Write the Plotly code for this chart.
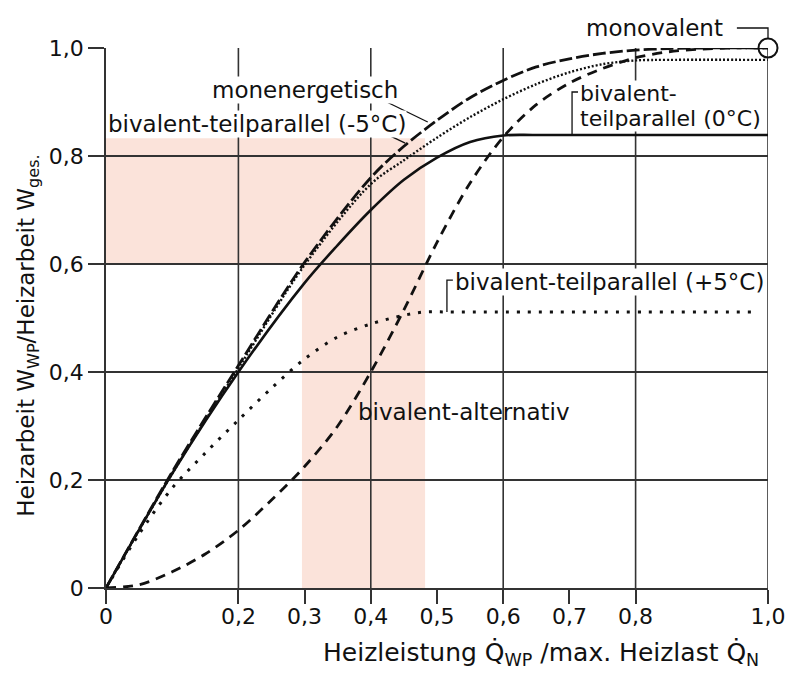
import plotly.graph_objects as go

# ---------------- data ----------------
# monenergetisch (long dashes)
x_monen = [0, 0.1, 0.2, 0.3, 0.4, 0.45, 0.5, 0.55, 0.6, 0.65, 0.7, 0.75, 0.8, 0.85, 0.9, 1.0]
y_monen = [0, 0.215, 0.412, 0.603, 0.76, 0.818, 0.866, 0.908, 0.94, 0.965, 0.98, 0.99, 0.996, 0.999, 1.0, 1.0]

# bivalent-teilparallel (-5°C) (fine dots)
x_m5 = [0, 0.1, 0.2, 0.3, 0.4, 0.45, 0.5, 0.55, 0.6, 0.65, 0.7, 0.75, 0.8, 0.85, 1.0]
y_m5 = [0, 0.212, 0.407, 0.598, 0.748, 0.792, 0.834, 0.872, 0.905, 0.933, 0.955, 0.97, 0.977, 0.978, 0.978]

# bivalent-teilparallel (0°C) (solid)
x_0 = [0, 0.1, 0.2, 0.3, 0.35, 0.4, 0.45, 0.5, 0.55, 0.6, 0.65, 1.0]
y_0 = [0, 0.212, 0.40, 0.565, 0.635, 0.70, 0.756, 0.797, 0.826, 0.838, 0.839, 0.839]

# bivalent-teilparallel (+5°C) (sparse dots)
x_p5 = [0, 0.05, 0.1, 0.15, 0.2, 0.25, 0.3, 0.35, 0.4, 0.45, 0.48, 0.53, 0.98]
y_p5 = [0, 0.1, 0.185, 0.25, 0.311, 0.37, 0.424, 0.465, 0.489, 0.505, 0.511, 0.511, 0.511]

# bivalent-alternativ (medium dashes)
x_alt = [0, 0.05, 0.1, 0.15, 0.2, 0.25, 0.3, 0.35, 0.4, 0.45, 0.5, 0.55, 0.6, 0.65, 0.7, 0.75, 0.8, 0.85, 0.9, 0.95, 1.0]
y_alt = [0, 0.006, 0.03, 0.063, 0.107, 0.163, 0.225, 0.30, 0.40, 0.515, 0.64, 0.75, 0.835, 0.895, 0.935, 0.962, 0.982, 0.993, 0.998, 1.0, 1.0]

# monovalent point
x_mono = [1.0]
y_mono = [1.0]

# axis ticks
x_ticks = [0, 0.2, 0.3, 0.4, 0.5, 0.6, 0.7, 0.8, 1.0]
x_ticklabels = ["0", "0,2", "0,3", "0,4", "0,5", "0,6", "0,7", "0,8", "1,0"]
y_ticks = [0, 0.2, 0.4, 0.6, 0.8, 1.0]
y_ticklabels = ["0", "0,2", "0,4", "0,6", "0,8", "1,0"]
x_grid = [0.2, 0.4, 0.6, 0.8, 1.0]

# shaded range (x0, x1, y0, y1)
shade_h = (0, 0.482, 0.6, 0.833)
shade_v = (0.296, 0.482, 0, 0.6)

FONT = "DejaVu Sans"
BLK = "#111111"

fig = go.Figure()

def curve(x, y, dash, width):
    fig.add_trace(go.Scatter(x=x, y=y, mode="lines",
                             line=dict(color=BLK, width=width, dash=dash, shape="spline", smoothing=0.9),
                             hoverinfo="skip", showlegend=False))

curve(x_alt, y_alt, "10px,7px", 2.8)
curve(x_p5, y_p5, "3px,8px", 3)
curve(x_0, y_0, "solid", 2.6)
curve(x_m5, y_m5, "2px,2px", 2.4)
curve(x_monen, y_monen, "13px,4px", 2.8)

fig.add_trace(go.Scatter(x=x_mono, y=y_mono, mode="markers", cliponaxis=False,
                         marker=dict(symbol="circle-open", size=19, color=BLK, line=dict(width=2, color=BLK)),
                         hoverinfo="skip", showlegend=False))

shapes = []
pink = "rgb(251,227,218)"
for (a, b, c, d) in (shade_h, shade_v):
    shapes.append(dict(type="rect", xref="x", yref="y", x0=a, x1=b, y0=c, y1=d,
                       fillcolor=pink, line=dict(width=0), layer="below"))
for gx in x_grid:
    shapes.append(dict(type="line", xref="x", yref="y", x0=gx, x1=gx, y0=0, y1=1,
                       line=dict(color="#333333", width=1.6), layer="between"))

# leader lines
def seg(pts, ref="x"):
    path = "M " + " L ".join(f"{px},{py}" for px, py in pts)
    return dict(type="path", path=path, xref=ref, yref="y" if ref == "x" else "paper",
                line=dict(color=BLK, width=1.3), layer="above")

shapes.append(seg([(0.414, 0.906), (0.486, 0.863)]))
shapes.append(seg([(0.411, 0.848), (0.452, 0.824)]))
shapes.append(seg([(0.713, 0.9185), (0.704, 0.9185), (0.704, 0.839)]))
shapes.append(seg([(0.524, 0.570), (0.515, 0.570), (0.515, 0.511)]))
shapes.append(seg([(0.953, 1.037), (1.0, 1.037), (1.0, 1.017)], ref="paper"))

fig.update_layout(shapes=shapes)

ann = []
def label(text, x, y, xanchor="left", bg="white", ref="x", size=23):
    ann.append(dict(text=text, x=x, y=y, xref=ref, yref="y" if ref == "x" else "paper",
                    xanchor=xanchor, yanchor="middle", showarrow=False,
                    font=dict(family=FONT, size=size, color=BLK),
                    bgcolor=bg, borderpad=0))

label("monenergetisch", 0.4426, 0.922, xanchor="right")
label("bivalent-teilparallel (-5°C)", 0.0015, 0.859)
label("bivalent-", 0.7145, 0.916, size=22)
label("teilparallel (0°C)", 0.7145, 0.870, size=22)
label("bivalent-teilparallel (+5°C)", 0.5257, 0.567)
label("bivalent-alternativ", 0.379, 0.326, bg="rgba(0,0,0,0)")
label("monovalent", 0.7236, 1.037, bg="rgba(0,0,0,0)", ref="paper")

# axis titles
ann.append(dict(text="Heizarbeit W<sub>WP</sub>/Heizarbeit W<sub>ges.</sub>", textangle=-90,
                x=-0.118, y=0.467, xref="paper", yref="paper", xanchor="center", yanchor="middle",
                showarrow=False, font=dict(family=FONT, size=23, color=BLK)))
ann.append(dict(text="Heizleistung Q\u0307<sub>WP</sub> /max. Heizlast Q\u0307<sub>N</sub>",
                x=0.657, y=-0.122, xref="paper", yref="paper", xanchor="center", yanchor="middle",
                showarrow=False, font=dict(family=FONT, size=25, color=BLK)))

fig.update_layout(annotations=ann)

fig.update_xaxes(range=[0, 1.0], tickmode="array", tickvals=x_ticks, ticktext=x_ticklabels,
                 ticks="outside", ticklen=14, tickwidth=1.5, tickcolor="#333333",
                 ticklabelstandoff=-6,
                 showgrid=False, zeroline=False, showline=True, linecolor="#333333", linewidth=1.6,
                 tickfont=dict(family=FONT, size=22, color=BLK), fixedrange=True)
fig.update_yaxes(range=[0, 1.0], tickmode="array", tickvals=y_ticks, ticktext=y_ticklabels,
                 ticks="outside", ticklen=16, tickwidth=1.5, tickcolor="#333333",
                 showgrid=True, gridcolor="#333333", gridwidth=1.6,
                 zeroline=False, showline=True, linecolor="#333333", linewidth=1.6,
                 tickfont=dict(family=FONT, size=22, color=BLK), fixedrange=True)

fig.update_layout(width=800, height=671, margin=dict(l=98, r=40, t=40, b=91),
                  plot_bgcolor="white", paper_bgcolor="white", showlegend=False)

fig.write_html("out.html")
